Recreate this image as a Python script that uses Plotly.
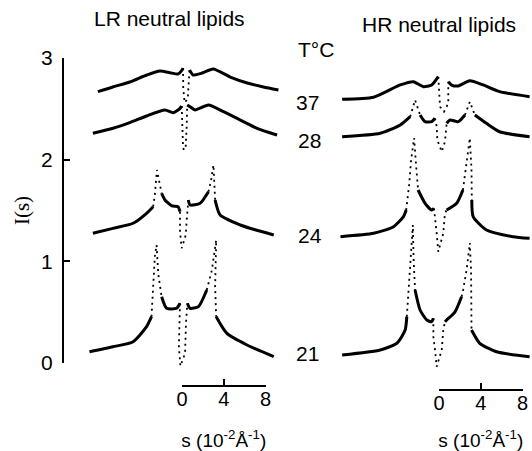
import plotly.graph_objects as go

W, H = 532, 451

# ---------------- data (q in 10^-2 Å^-1, stacked intensity I(s)) ----------------
# LR neutral lipids
LR37_q = [-8.05, -6.63, -5.0, -3.37, -2.12, -1.15, -0.38, 0.0, 0.1, 0.12, 0.25, 0.55, 0.72, 1.06, 1.92, 2.98, 4.62, 6.25, 7.79, 9.23]
LR37_i = [2.668, 2.714, 2.763, 2.832, 2.871, 2.855, 2.842, 2.88, 2.90, 2.70, 2.56, 2.60, 2.88, 2.832, 2.851, 2.891, 2.812, 2.753, 2.714, 2.684]

LR28_q = [-8.53, -6.6, -5.0, -3.39, -1.63, -0.83, -0.19, -0.03, 0.0, 0.1, 0.19, 0.35, 0.45, 0.5, 0.77, 1.25, 2.53, 3.97, 5.58, 7.18, 9.1]
LR28_i = [2.259, 2.308, 2.363, 2.429, 2.488, 2.461, 2.504, 2.527, 2.35, 2.12, 2.094, 2.12, 2.33, 2.537, 2.52, 2.488, 2.537, 2.471, 2.389, 2.308, 2.242]

LR24_q = [-8.53, -6.61, -4.68, -3.39, -2.76, -2.6, -2.40, -2.1, -1.95, -1.63, -0.96, -0.38, -0.19, -0.19, -0.03, 0.36, 0.45, 0.61, 0.77, 1.73, 2.53, 2.79, 3.01, 3.13, 3.17, 3.65, 5.58, 7.0, 8.78]
LR24_i = [1.275, 1.324, 1.374, 1.472, 1.537, 1.652, 1.898, 1.72, 1.669, 1.603, 1.544, 1.537, 1.488, 1.291, 1.128, 1.259, 1.406, 1.603, 1.554, 1.570, 1.684, 1.799, 1.947, 1.75, 1.603, 1.455, 1.357, 1.31, 1.259]

LR21_q = [-8.85, -6.61, -4.68, -3.39, -2.92, -2.76, -2.6, -2.43, -2.28, -1.95, -1.47, -0.51, -0.19, -0.22, -0.3, -0.15, 0.29, 0.38, 0.51, 0.77, 1.57, 2.37, 2.86, 3.27, 3.17, 3.27, 4.3, 6.22, 8.78]
LR21_i = [0.111, 0.160, 0.209, 0.357, 0.455, 0.750, 1.045, 1.160, 0.882, 0.652, 0.538, 0.538, 0.587, 0.42, 0.16, -0.03, 0.095, 0.390, 0.587, 0.538, 0.554, 0.718, 0.914, 1.209, 0.75, 0.455, 0.291, 0.177, 0.062]

# HR neutral lipids
HR37_q = [-9.27, -6.26, -3.71, -2.45, -1.50, -0.70, -0.07, 0.03, 0.1, 0.48, 0.89, 0.89, 1.21, 1.84, 2.95, 4.22, 5.81, 8.67]
HR37_i = [2.593, 2.613, 2.734, 2.766, 2.717, 2.733, 2.815, 2.652, 2.520, 2.471, 2.554, 2.766, 2.733, 2.724, 2.776, 2.734, 2.668, 2.619]

HR28_q = [-9.27, -5.62, -3.71, -2.76, -2.29, -1.81, -1.33, -0.70, -0.38, -0.22, -0.16, 0.26, 0.57, 0.73, 1.05, 1.84, 2.48, 2.95, 3.43, 4.54, 5.81, 8.67]
HR28_i = [2.225, 2.259, 2.340, 2.422, 2.586, 2.439, 2.373, 2.373, 2.406, 2.324, 2.193, 2.078, 2.176, 2.357, 2.389, 2.373, 2.439, 2.569, 2.439, 2.357, 2.274, 2.225]

HR24_q = [-9.43, -6.26, -4.35, -3.40, -3.14, -2.86, -2.67, -2.38, -2.2, -2.0, -1.33, -0.70, -0.48, -0.38, -0.22, -0.07, 0.41, 0.57, 0.73, 1.69, 2.29, 2.6, 2.95, 3.11, 3.14, 3.27, 4.54, 7.08, 8.67]
HR24_i = [1.242, 1.275, 1.340, 1.439, 1.504, 1.750, 1.996, 2.212, 1.95, 1.701, 1.570, 1.504, 1.521, 1.439, 1.275, 1.094, 1.275, 1.472, 1.504, 1.570, 1.701, 1.95, 2.212, 1.898, 1.603, 1.439, 1.308, 1.242, 1.226]

HR21_q = [-9.27, -5.62, -4.03, -3.24, -3.08, -2.90, -2.76, -2.50, -2.43, -2.29, -1.81, -1.17, -0.70, -0.54, -0.54, -0.38, -0.22, 0.26, 0.41, 0.57, 0.73, 1.52, 2.16, 2.31, 2.64, 2.95, 3.07, 3.11, 3.11, 3.11, 3.90, 5.50, 8.67]
HR21_i = [0.079, 0.128, 0.194, 0.324, 0.455, 0.718, 1.013, 1.357, 1.013, 0.718, 0.521, 0.423, 0.406, 0.440, 0.259, 0.128, -0.036, 0.128, 0.324, 0.406, 0.423, 0.501, 0.652, 0.718, 0.914, 1.180, 0.914, 0.619, 0.390, 0.324, 0.194, 0.111, 0.062]

TEMPS = ["37", "28", "24", "21"]
Y_TICKS = [0, 1, 2, 3]
SCALE_TICKS = [0, 4, 8]

# ---------------- styling: index ranges drawn as dotted (steep, sparsely plotted parts) ----------------
CURVES = [
    ("LR 37", LR37_q, LR37_i, "x", [(8, 12)]),
    ("LR 28", LR28_q, LR28_i, "x", [(7, 13)]),
    ("LR 24", LR24_q, LR24_i, "x", [(4, 8), (12, 17), (20, 24)]),
    ("LR 21", LR21_q, LR21_i, "x", [(4, 9), (12, 18), (21, 25)]),
    ("HR 37", HR37_q, HR37_i, "x2", [(6, 11)]),
    ("HR 28", HR28_q, HR28_i, "x2", [(3, 5), (8, 13), (16, 18)]),
    ("HR 24", HR24_q, HR24_i, "x2", [(4, 9), (12, 18), (20, 24)]),
    ("HR 21", HR21_q, HR21_i, "x2", [(4, 9), (13, 19), (22, 29)]),
]

FONT = "Liberation Sans"
INK = "black"

# pixel layout of the original figure
Y0_PX = 363.0      # pixel row of I = 0
KPX = 101.7        # pixels per intensity unit
QPX = 10.45        # pixels per 10^-2 Å^-1
LR_Q0_PX = 182.0   # pixel column of q = 0 (left panel)
HR_Q0_PX = 439.0   # pixel column of q = 0 (right panel)
YAXIS_PX = 64.0    # pixel column of the intensity axis


def fx(px):
    return px / W


def fy(py):
    return (H - py) / H


def split(n, dots):
    segs, pos = [], 0
    for a, b in dots:
        if a > pos:
            segs.append((pos, a, False))
        segs.append((a, b, True))
        pos = b
    if pos < n - 1:
        segs.append((pos, n - 1, False))
    return segs


fig = go.Figure()
for name, q, inten, xa, dots in CURVES:
    for a, b, dotted in split(len(q), dots):
        fig.add_trace(go.Scatter(
            x=q[a:b + 1], y=inten[a:b + 1], xaxis=xa, yaxis="y2",
            mode="lines", name=name, showlegend=False, hoverinfo="skip",
            line=dict(color=INK, width=1.8 if dotted else 3.0,
                      dash="2px,4px" if dotted else "solid",
                      shape="linear" if dotted else "spline", smoothing=0.6),
        ))

# empty traces so the scale-bar axes and the intensity axis get drawn
for xa in ("x3", "x4", "x5"):
    fig.add_trace(go.Scatter(x=[], y=[], xaxis=xa, yaxis="y", showlegend=False, hoverinfo="skip"))

LR_RANGE = [-9.5, 9.6]
HR_RANGE = [-9.6, 8.85]

axis_off = dict(visible=False, showgrid=False, zeroline=False, fixedrange=True)
scale_common = dict(
    range=[0, 8], tickvals=SCALE_TICKS, ticks="inside", ticklen=6, tickwidth=2,
    tickcolor=INK, showline=True, linecolor=INK, linewidth=2, showgrid=False,
    zeroline=False, anchor="free", ticklabelstandoff=-5,
    tickfont=dict(family=FONT, size=20, color=INK),
    title=dict(text="s (10<sup>-2</sup>Å<sup>-1</sup>)", font=dict(family=FONT, size=19, color=INK), standoff=26),
)

fig.update_layout(
    width=W, height=H, margin=dict(l=0, r=0, t=0, b=0, pad=0, autoexpand=False),
    paper_bgcolor="white", plot_bgcolor="rgba(0,0,0,0)",
    showlegend=False,
    xaxis=dict(domain=[fx(LR_Q0_PX + LR_RANGE[0] * QPX), fx(LR_Q0_PX + LR_RANGE[1] * QPX)],
               range=LR_RANGE, anchor="y2", **axis_off),
    xaxis2=dict(domain=[fx(HR_Q0_PX + HR_RANGE[0] * QPX), fx(HR_Q0_PX + HR_RANGE[1] * QPX)],
                range=HR_RANGE, anchor="y2", **axis_off),
    xaxis3=dict(domain=[fx(LR_Q0_PX), fx(LR_Q0_PX + 8 * QPX)], position=fy(386), **scale_common),
    xaxis4=dict(domain=[fx(HR_Q0_PX), fx(HR_Q0_PX + 8 * QPX)], position=fy(390), **scale_common),
    xaxis5=dict(domain=[fx(YAXIS_PX), fx(YAXIS_PX + 10)], range=[0, 1], anchor="y", **axis_off),
    yaxis=dict(domain=[fy(Y0_PX), fy(Y0_PX - 3 * KPX)], range=[0, 3], tickvals=Y_TICKS,
               anchor="x5", side="left", ticks="inside", ticklen=6, tickwidth=2,
               tickcolor=INK, showline=True, linecolor=INK, linewidth=2, showgrid=False,
               zeroline=False, ticklabelstandoff=5,
               tickfont=dict(family=FONT, size=21, color=INK),
               title=dict(text="I(s)", font=dict(family="Liberation Serif", size=21, color=INK), standoff=6)),
    yaxis2=dict(domain=[fy(Y0_PX + 0.3 * KPX), fy(Y0_PX - 3.3 * KPX)], range=[-0.3, 3.3],
                anchor="x", **axis_off),
)


def ann(text, xpx, ypx, size=21):
    fig.add_annotation(text=text, x=fx(xpx), y=fy(ypx), xref="paper", yref="paper",
                       showarrow=False, xanchor="center", yanchor="middle",
                       font=dict(family=FONT, size=size, color=INK))


ann("LR neutral lipids", 169, 19)
ann("HR neutral lipids", 439, 24)
ann("T°C", 316, 50)
for t, ypx, xpx in zip(TEMPS, [102, 140, 236, 353], [307, 309, 310, 307]):
    ann(t, xpx, ypx)

fig.write_html("out.html")
